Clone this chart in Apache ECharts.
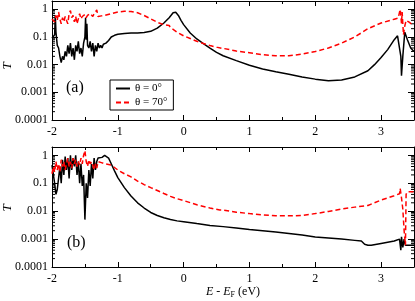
<!DOCTYPE html>
<html><head><meta charset="utf-8">
<script src="https://cdn.jsdelivr.net/npm/echarts@6/dist/echarts.min.js"></script>
<style>html,body{margin:0;padding:0;background:#fff}#c{width:415px;height:301px}</style>
</head><body><div id="c"></div>
<script>
// Panel (a): theta = 0 deg (black) and theta = 70 deg (red)
const a0 = [[-2.00,0.09],[-1.98,0.1],[-1.96,0.12],[-1.95,0.6],[-1.94,0.15],[-1.92,0.05],[-1.90,0.04],[-1.88,0.02],[-1.86,0.012],[-1.84,0.02],[-1.82,0.015],[-1.80,0.03],[-1.78,0.02],[-1.76,0.05],[-1.74,0.025],[-1.72,0.06],[-1.70,0.02],[-1.68,0.04],[-1.66,0.015],[-1.64,0.05],[-1.62,0.03],[-1.60,0.07],[-1.58,0.025],[-1.56,0.04],[-1.54,0.02],[-1.52,0.06],[-1.50,0.1],[-1.49,0.5],[-1.48,0.08],[-1.47,0.3],[-1.46,0.05],[-1.44,0.04],[-1.42,0.07],[-1.40,0.03],[-1.38,0.06],[-1.36,0.02],[-1.34,0.05],[-1.32,0.03],[-1.30,0.06],[-1.28,0.04],[-1.26,0.05],[-1.24,0.04],[-1.22,0.055],[-1.20,0.05],[-1.18,0.06],[-1.16,0.065],[-1.14,0.075],[-1.12,0.085],[-1.10,0.1],[-1.05,0.115],[-1.00,0.125],[-0.90,0.135],[-0.80,0.14],[-0.70,0.14],[-0.60,0.145],[-0.50,0.16],[-0.40,0.21],[-0.30,0.32],[-0.22,0.5],[-0.16,0.75],[-0.12,0.78],[-0.08,0.6],[-0.04,0.4],[0.00,0.28],[0.1,0.14],[0.2,0.085],[0.3,0.058],[0.4,0.04],[0.5,0.028],[0.6,0.021],[0.8,0.014],[1.0,0.0095],[1.2,0.007],[1.4,0.0055],[1.6,0.0045],[1.8,0.0036],[2.0,0.003],[2.2,0.0026],[2.4,0.0028],[2.6,0.0036],[2.8,0.006],[2.9,0.01],[3.0,0.018],[3.1,0.035],[3.2,0.08],[3.25,0.11],[3.28,0.1],[3.3,0.02],[3.31,0.004],[3.33,0.02],[3.36,0.15],[3.4,0.08],[3.45,0.04],[3.5,0.03]];
const a70 = [[-2.00,0.45],[-1.98,0.4],[-1.96,0.35],[-1.94,0.6],[-1.92,0.4],[-1.90,0.8],[-1.88,0.45],[-1.86,0.3],[-1.84,0.5],[-1.82,0.35],[-1.80,0.55],[-1.78,0.4],[-1.76,0.3],[-1.74,0.7],[-1.72,0.9],[-1.70,0.5],[-1.68,0.6],[-1.66,0.35],[-1.64,0.55],[-1.62,0.3],[-1.60,0.45],[-1.58,0.7],[-1.56,0.45],[-1.54,0.55],[-1.52,0.5],[-1.50,0.65],[-1.48,0.5],[-1.46,0.6],[-1.44,0.55],[-1.42,0.7],[-1.40,0.6],[-1.38,0.55],[-1.36,0.7],[-1.34,0.65],[-1.32,0.95],[-1.30,0.55],[-1.28,0.6],[-1.25,0.58],[-1.20,0.6],[-1.10,0.7],[-1.00,0.8],[-0.90,0.85],[-0.80,0.84],[-0.70,0.75],[-0.60,0.6],[-0.50,0.45],[-0.40,0.34],[-0.30,0.28],[-0.22,0.26],[-0.20,0.22],[-0.10,0.15],[0.00,0.11],[0.1,0.088],[0.2,0.07],[0.3,0.058],[0.4,0.049],[0.5,0.043],[0.58,0.039],[0.6,0.045],[0.62,0.038],[0.7,0.035],[0.8,0.031],[1.0,0.027],[1.2,0.023],[1.4,0.021],[1.6,0.021],[1.8,0.024],[2.0,0.03],[2.2,0.04],[2.4,0.06],[2.6,0.1],[2.8,0.2],[3.0,0.32],[3.2,0.44],[3.26,0.48],[3.28,0.5],[3.29,1.0],[3.30,0.6],[3.31,0.3],[3.32,0.8],[3.34,0.12],[3.36,0.25],[3.38,0.4],[3.42,0.35],[3.46,0.3],[3.5,0.28]];
// Panel (b)
const b0 = [[-2.00,0.45],[-1.98,0.5],[-1.96,0.1],[-1.94,0.04],[-1.92,0.06],[-1.90,0.15],[-1.88,0.4],[-1.86,0.1],[-1.84,0.7],[-1.82,0.2],[-1.80,0.9],[-1.78,0.3],[-1.76,0.8],[-1.74,0.15],[-1.72,1.0],[-1.70,0.3],[-1.68,0.8],[-1.66,0.4],[-1.64,1.0],[-1.62,0.2],[-1.60,0.6],[-1.58,0.1],[-1.56,0.5],[-1.54,0.08],[-1.52,0.2],[-1.50,0.005],[-1.48,0.1],[-1.46,0.03],[-1.44,0.3],[-1.42,0.08],[-1.40,0.5],[-1.38,0.15],[-1.36,0.8],[-1.34,0.3],[-1.32,0.6],[-1.30,0.8],[-1.28,0.7],[-1.24,0.85],[-1.20,1.0],[-1.17,1.0],[-1.14,0.8],[-1.10,0.5],[-1.05,0.28],[-1.00,0.16],[-0.9,0.07],[-0.8,0.035],[-0.7,0.02],[-0.6,0.013],[-0.5,0.009],[-0.4,0.007],[-0.3,0.0058],[-0.2,0.005],[-0.1,0.0045],[0.0,0.0042],[0.2,0.0036],[0.4,0.0031],[0.6,0.0028],[0.8,0.0025],[1.0,0.0022],[1.2,0.002],[1.4,0.0018],[1.6,0.0016],[1.8,0.0014],[2.0,0.0012],[2.2,0.0011],[2.4,0.001],[2.6,0.0009],[2.7,0.00085],[2.75,0.00065],[2.8,0.0006],[2.85,0.0006],[3.0,0.0007],[3.2,0.00085],[3.28,0.001],[3.3,0.0004],[3.31,0.0012],[3.33,0.0005],[3.35,0.001],[3.37,0.0006],[3.4,0.0007],[3.5,0.0006]];
const b70 = [[-2.00,0.22],[-1.98,0.4],[-1.96,0.25],[-1.94,0.6],[-1.92,0.3],[-1.90,0.5],[-1.88,0.25],[-1.86,0.7],[-1.84,0.4],[-1.82,0.6],[-1.80,0.3],[-1.78,0.5],[-1.76,0.8],[-1.74,0.4],[-1.72,0.6],[-1.70,0.35],[-1.68,0.8],[-1.66,0.5],[-1.64,0.7],[-1.62,0.4],[-1.60,0.6],[-1.58,0.45],[-1.56,0.8],[-1.54,0.5],[-1.52,1.0],[-1.50,1.5],[-1.48,0.6],[-1.46,0.4],[-1.44,0.7],[-1.42,0.5],[-1.40,0.6],[-1.38,0.45],[-1.36,0.3],[-1.34,0.5],[-1.32,0.35],[-1.30,0.6],[-1.25,0.55],[-1.20,0.5],[-1.10,0.45],[-1.00,0.3],[-0.9,0.22],[-0.8,0.17],[-0.7,0.12],[-0.6,0.09],[-0.5,0.07],[-0.4,0.055],[-0.3,0.043],[-0.2,0.034],[-0.1,0.028],[0.0,0.024],[0.2,0.017],[0.4,0.013],[0.55,0.011],[0.58,0.0095],[0.6,0.011],[0.8,0.0092],[1.0,0.0082],[1.2,0.0074],[1.4,0.0068],[1.6,0.0068],[1.8,0.007],[2.0,0.0082],[2.2,0.0098],[2.4,0.012],[2.6,0.014],[2.8,0.016],[2.85,0.018],[3.0,0.025],[3.2,0.036],[3.28,0.042],[3.29,0.065],[3.31,0.03],[3.33,0.012],[3.35,0.002],[3.37,0.0006],[3.38,0.04],[3.4,0.05],[3.45,0.05],[3.5,0.05]];

const seriesNames = ['\u03b8 = 0\u00b0', '\u03b8 = 70\u00b0'];
const panelLabels = ['(a)', '(b)'];
const yTitle = 'T';
const xMin = -2, xMax = 3.5, yMin = 0.0001, yMax = 2;

// minor log tick positions (2..9 x 10^k)
const minorY = [];
for (let k = -4; k <= 0; k++) for (let m = 2; m <= 9; m++) { const v = m * Math.pow(10, k); if (v < yMax) minorY.push([xMin, v]); }

const FONT = 'Liberation Serif';
const grids = [{left:52, width:362, top:1, height:119, outerBoundsMode:'none', containLabel:false},
               {left:52, width:362, top:147, height:120, outerBoundsMode:'none', containLabel:false}];

function fmtY(v){ const l = Math.log10(v); if (Math.abs(l - Math.round(l)) > 1e-6) return ''; const r = Math.round(l); return r >= 0 ? String(Math.pow(10,r)) : Math.pow(10,r).toFixed(-r); }
function fmtX(v){ return Math.abs(v - Math.round(v)) < 1e-6 ? String(Math.round(v)) : ''; }

const xAxes = [], yAxes = [], series = [];
grids.forEach((g, gi) => {
  ['bottom','top'].forEach(pos => {
    xAxes.push({type:'value', gridIndex:gi, position:pos, min:xMin, max:xMax, interval:1,
      axisLine:{show:true, onZero:false, lineStyle:{color:'#000', width:1}},
      axisTick:{show:true, inside:true, length:5, lineStyle:{color:'#000'}},
      minorTick:{show:true, splitNumber:2, length:3, lineStyle:{color:'#000'}},
      splitLine:{show:false},
      axisLabel:{show:pos==='bottom', formatter:fmtX, color:'#000', fontFamily:FONT, fontSize:12, margin:6, showMaxLabel:false},
      name: (pos==='bottom' && gi===1) ? '{i|E} - {i|E}{s|F} (eV)' : '',
      nameLocation:'middle', nameGap:17,
      nameTextStyle:{color:'#000', fontFamily:FONT, fontSize:12, rich:{i:{fontStyle:'italic', fontFamily:FONT, fontSize:12}, s:{fontFamily:FONT, fontSize:8, verticalAlign:'bottom', padding:[6,0,0,0]}}}
    });
  });
  ['left','right'].forEach(pos => {
    yAxes.push({type:'log', logBase:10, gridIndex:gi, position:pos, min:yMin, max:yMax,
      axisLine:{show:true, onZero:false, lineStyle:{color:'#000', width:1}},
      axisTick:{show:true, inside:true, length:6, lineStyle:{color:'#000'}},
      splitLine:{show:false},
      axisLabel:{show:pos==='left', formatter:fmtY, color:'#000', fontFamily:FONT, fontSize:12, margin:4, showMaxLabel:false}
    });
  });
  const xi = gi*2, yi = gi*2;
  const d0 = gi===0 ? a0 : b0, d70 = gi===0 ? a70 : b70;
  series.push({type:'line', name:seriesNames[0], xAxisIndex:xi, yAxisIndex:yi, data:d0, showSymbol:false, symbol:'none', animation:false,
    lineStyle:{color:'#000', width:1.5}, itemStyle:{color:'#000'}});
  series.push({type:'line', name:seriesNames[1], xAxisIndex:xi, yAxisIndex:yi, data:d70, showSymbol:false, symbol:'none', animation:false,
    lineStyle:{color:'#ff0000', width:1.5, type:[5,3]}, itemStyle:{color:'#ff0000'}});
  series.push({type:'custom', xAxisIndex:xi, yAxisIndex:yi, data:minorY, silent:true, animation:false, clip:false,
    encode:{x:0, y:1},
    renderItem:function(params, api){
      const v = api.value(1);
      const p1 = api.coord([xMin, v]), p2 = api.coord([xMax, v]);
      return {type:'group', children:[
        {type:'line', shape:{x1:p1[0], y1:p1[1], x2:p1[0]+3, y2:p1[1]}, style:{stroke:'#000', lineWidth:1}},
        {type:'line', shape:{x1:p2[0], y1:p2[1], x2:p2[0]-3, y2:p2[1]}, style:{stroke:'#000', lineWidth:1}}
      ]};
    }});
});

const chart = echarts.init(document.getElementById('c'), null, {renderer:'canvas'});
chart.setOption({
  animation:false,
  backgroundColor:'#fff',
  grid: grids,
  xAxis: xAxes, yAxis: yAxes, series: series,
  legend:{data:seriesNames, orient:'vertical', left:110, top:80, itemWidth:14, itemHeight:8, itemGap:3,
    padding:[3,6,2,5], borderColor:'#000', borderWidth:1, borderRadius:0,
    itemStyle:{opacity:0},
    textStyle:{color:'#000', fontFamily:FONT, fontSize:11}, selectedMode:false},
  graphic:[
    {type:'text', x:8, y:66, rotation:Math.PI/2, style:{text:yTitle, font:'italic 13px "Liberation Serif"', fill:'#000', align:'center', verticalAlign:'middle'}},
    {type:'text', x:8, y:208, rotation:Math.PI/2, style:{text:yTitle, font:'italic 13px "Liberation Serif"', fill:'#000', align:'center', verticalAlign:'middle'}},
    {type:'text', left:66, top:80, style:{text:panelLabels[0], font:'16px "Liberation Serif"', fill:'#000'}},
    {type:'text', left:67, top:235, style:{text:panelLabels[1], font:'16px "Liberation Serif"', fill:'#000'}}
  ]
});
</script></body></html>
